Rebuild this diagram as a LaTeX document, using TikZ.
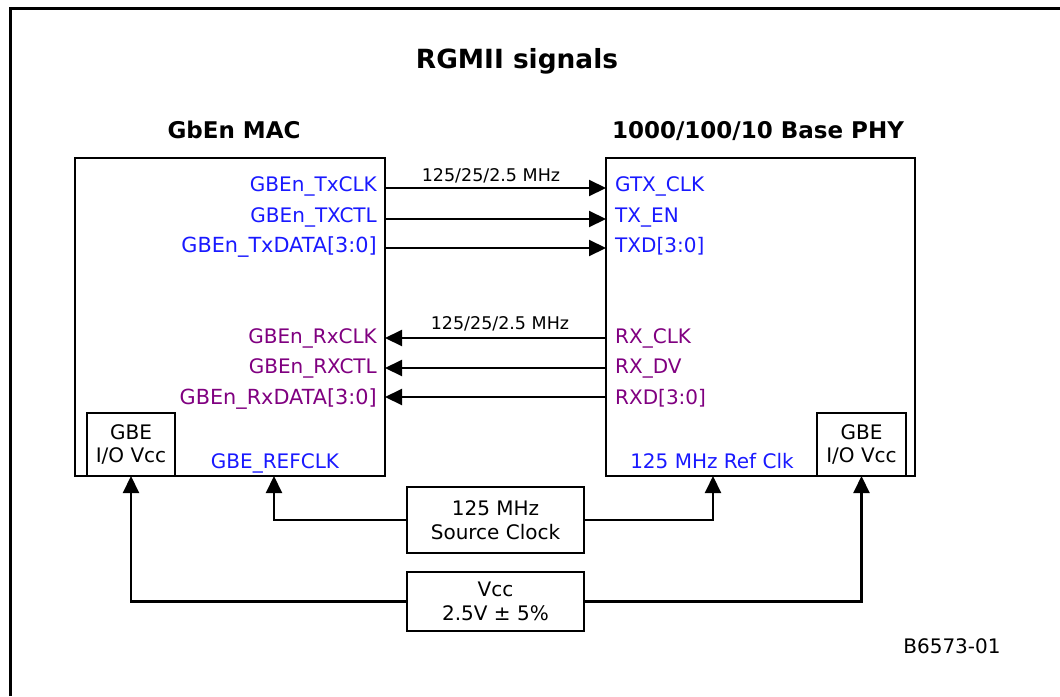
\documentclass[tikz,border=0pt]{standalone}
\usepackage{fontspec}
\setmainfont{DejaVu Sans}
\usetikzlibrary{arrows.meta}
\definecolor{sigblue}{RGB}{25,25,255}
\definecolor{sigpurple}{RGB}{128,0,128}
\begin{document}
\begin{tikzpicture}[x=1pt,y=-1pt,
  box/.style={draw,line width=2.1pt,inner sep=0pt,outer sep=0pt,anchor=north west,align=center,font=\fontsize{20}{24}\selectfont},
  lbl/.style={inner sep=0pt,font=\fontsize{20}{24}\selectfont},
  wide/.style={font=\fontsize{20.8}{24}\selectfont},
  freq/.style={inner sep=0pt,anchor=base,font=\fontsize{17.5}{20}\selectfont},
  hdr/.style={inner sep=0pt,anchor=base,font=\fontsize{23}{26}\selectfont\bfseries},
  arr/.style={line width=2.1pt,-{Triangle[length=17pt,width=16pt]}},
  tx/.style={lbl,text=sigblue},
  rx/.style={lbl,text=sigpurple}]
\useasboundingbox (0,0) rectangle (1060,696);
\draw[line width=3pt] (10,696) -- (10,8) -- (1060,8);

\node[inner sep=0pt,anchor=base,font=\fontsize{26.4}{30}\selectfont\bfseries] (title) at (517,68) {RGMII signals};
\node[hdr] (machdr) at (234,138) {GbEn MAC};
\node[hdr] (phyhdr) at (758,138) {1000/100/10 Base PHY};

\node[box,minimum width=310pt,minimum height=318pt] (mac) at (75,158) {};
\node[box,minimum width=309pt,minimum height=318pt] (phy) at (606,158) {};
\node[box,minimum width=88pt,minimum height=63pt] (gbeL) at (87,413) {GBE\\I/O Vcc};
\node[box,minimum width=89pt,minimum height=63pt] (gbeR) at (817,413) {GBE\\I/O Vcc};
\node[box,minimum width=177pt,minimum height=66pt] (src) at (407,487) {125 MHz\\Source Clock};
\node[box,minimum width=177pt,minimum height=59pt] (vcc) at (407,572) {Vcc\\2.5V ± 5\%};

% MAC labels
\node[tx,anchor=base east] (mtx1) at (377,191) {GBEn\_TxCLK};
\node[tx,anchor=base east] (mtx2) at (377,222) {GBEn\_TXCTL};
\node[tx,wide,anchor=base east] (mtx3) at (377,252) {GBEn\_TxDATA[3:0]};
\node[rx,anchor=base east] (mrx1) at (377,343) {GBEn\_RxCLK};
\node[rx,anchor=base east] (mrx2) at (377,373) {GBEn\_RXCTL};
\node[rx,wide,anchor=base east] (mrx3) at (377,404) {GBEn\_RxDATA[3:0]};
\node[tx,anchor=base] (mref) at (275,468) {GBE\_REFCLK};

% PHY labels
\node[tx,anchor=base west] (ptx1) at (615,191) {GTX\_CLK};
\node[tx,anchor=base west] (ptx2) at (615,222) {TX\_EN};
\node[tx,anchor=base west] (ptx3) at (615,252) {TXD[3:0]};
\node[rx,anchor=base west] (prx1) at (615,343) {RX\_CLK};
\node[rx,anchor=base west] (prx2) at (615,373) {RX\_DV};
\node[rx,anchor=base west] (prx3) at (615,404) {RXD[3:0]};
\node[tx,anchor=base] (pref) at (712,468) {125 MHz Ref Clk};

% frequency labels
\node[freq] (f1) at (491,181) {125/25/2.5 MHz};
\node[freq] (f2) at (500,329) {125/25/2.5 MHz};

% signal rows
\coordinate (y1) at (0,188);
\coordinate (y2) at (0,219);
\coordinate (y3) at (0,248);
\coordinate (y4) at (0,338);
\coordinate (y5) at (0,368);
\coordinate (y6) at (0,397);
\draw[arr] (mac.east |- y1) -- (phy.west |- y1);
\draw[arr] (mac.east |- y2) -- (phy.west |- y2);
\draw[arr] (mac.east |- y3) -- (phy.west |- y3);
\draw[arr] (phy.west |- y4) -- (mac.east |- y4);
\draw[arr] (phy.west |- y5) -- (mac.east |- y5);
\draw[arr] (phy.west |- y6) -- (mac.east |- y6);

% clock and power
\coordinate (xL) at (274,0);
\coordinate (xR) at (713,0);
\draw[arr] (src.west) -| (mac.south -| xL);
\draw[arr] (src.east) -| (phy.south -| xR);
\draw[arr] (vcc.west) -| (gbeL.south);
\draw[arr] (vcc.east) -| (gbeR.south);

\node[lbl,anchor=base] (fig) at (952,653) {B6573-01};
\end{tikzpicture}
\end{document}
